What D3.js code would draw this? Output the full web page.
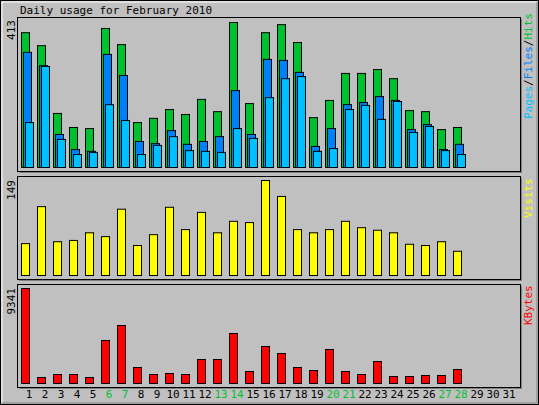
<!DOCTYPE html><html><head><meta charset="utf-8">
<script src="https://cdn.jsdelivr.net/npm/d3@7"></script>
<style>body{margin:0;background:#fff}text{font-family:"DejaVu Sans Mono",monospace;font-size:11px}</style>
</head><body><svg id="c" width="539" height="405"></svg>
<script>
const days = d3.range(1,32);
const weekend = [6,7,13,14,20,21,27,28];
const hits = [384,347,154,114,111,396,350,128,140,165,151,194,159,413,182,384,407,356,142,191,268,268,279,253,162,159,108,114];
const files = [328,290,94,51,46,322,262,74,68,105,66,74,88,219,94,308,305,271,60,111,179,185,202,191,108,122,51,66];
const pages = [128,288,80,37,43,179,134,37,63,88,48,46,43,111,83,199,253,259,46,54,165,177,137,188,100,117,48,37];
const visits = [50,108,53,55,67,61,104,47,64,107,72,99,67,85,83,149,124,72,67,72,85,75,71,67,49,47,53,38];
const kbytes = [9341,590,885,885,590,4229,5704,1573,885,983,885,2360,2360,4917,1180,3639,2950,1573,1278,3344,1180,885,2163,688,688,787,787,1377];
const maxHits=413, maxVisits=149, maxKB=9341;

const svg=d3.select("#c");
svg.append("rect").attr("x",0.5).attr("y",0.5).attr("width",538).attr("height",404).attr("fill","#c0c0c0").attr("stroke","#000");
svg.append("path").attr("d","M2,403V2H537").attr("fill","none").attr("stroke","#fff");
svg.append("path").attr("d","M2,403H537V2").attr("fill","none").attr("stroke","#808080");
svg.append("text").attr("x",20).attr("y",14).text("Daily usage for February 2010");

const x=d3.scaleBand().domain(days).range([21,21+16*31]).paddingInner(0);
const panels=[{y0:17,y1:171},{y0:176,y1:279},{y0:284,y1:387}];
panels.forEach(p=>{
  svg.append("rect").attr("x",19).attr("y",p.y0+2).attr("width",503).attr("height",p.y1-p.y0).attr("fill","#808080");
  svg.append("rect").attr("x",17.5).attr("y",p.y0+.5).attr("width",503).attr("height",p.y1-p.y0).attr("fill","#c0c0c0").attr("stroke","#000");
});
function bars(data,scale,off,color){
  svg.append("g").selectAll("rect").data(data).join("rect")
   .attr("x",(d,i)=>x(i+1)+off+.5).attr("y",d=>scale(d)+.5)
   .attr("width",8).attr("height",d=>scale(0)-scale(d)).attr("fill",color).attr("stroke","#000");
}
const yH=d3.scaleLinear([0,maxHits],[167,22]);
const yV=d3.scaleLinear([0,maxVisits],[275,180]);
const yK=d3.scaleLinear([0,maxKB],[383,288]);
bars(hits,yH,0,"#00c030");bars(files,yH,2,"#0080ff");bars(pages,yH,4,"#00c0ff");
bars(visits,yV,0,"#ffff00");
bars(kbytes,yK,0,"#ff0000");

function ylab(t,yTop){svg.append("text").attr("transform",`translate(15,${yTop}) rotate(-90)`).attr("text-anchor","end").text(t);}
ylab(String(maxHits),20);ylab(String(maxVisits),180);ylab(String(maxKB),288);

function rlab(parts,yBottom){
  const t=svg.append("text").attr("transform",`translate(532,${yBottom}) rotate(-90)`);
  parts.forEach(([s,c])=>t.append("tspan").attr("fill",c).text(s));
}
rlab([["Pages","#00c0ff"],["/","#000"],["Files","#0080ff"],["/","#000"],["Hits","#00c030"]],119);
rlab([["Visits","#ffff00"]],218);
rlab([["KBytes","#ff0000"]],325);

svg.append("g").selectAll("text").data(days).join("text")
 .attr("x",d=>x(d)+8).attr("y",398).attr("text-anchor","middle")
 .attr("fill",d=>weekend.includes(d)?"#00c030":"#000").text(d=>d);
</script></body></html>
